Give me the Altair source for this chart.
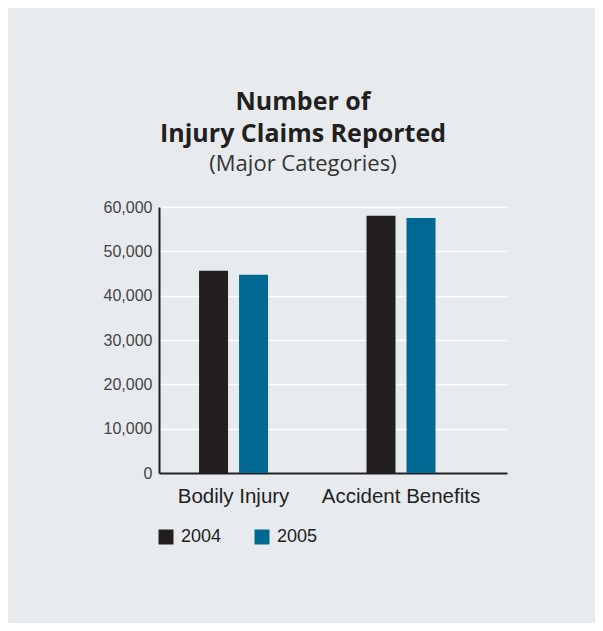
import altair as alt
import pandas as pd

categories = ["Bodily Injury", "Accident Benefits"]
years = ["2004", "2005"]
values_2004 = [45600, 58000]
values_2005 = [44700, 57500]
y_ticks = [0, 10000, 20000, 30000, 40000, 50000, 60000]
colors = ["#231f20", "#006892"]

rows = []
for c, v in zip(categories, values_2004):
    rows.append({"category": c, "year": "2004", "value": v})
for c, v in zip(categories, values_2005):
    rows.append({"category": c, "year": "2005", "value": v})
df = pd.DataFrame(rows)

BG = "#e7ebee"
DARK = "#231f20"

chart = alt.Chart(df).mark_bar().encode(
    x=alt.X(
        "category:N",
        sort=categories,
        scale=alt.Scale(paddingInner=0.588, paddingOuter=0.333, align=0.359),
        axis=alt.Axis(
            title=None, labelAngle=0, ticks=False, grid=False,
            domainColor=DARK, domainWidth=2,
            labelFontSize=20.5, labelColor="#222222", labelFont="Liberation Sans",
            labelPadding=13,
        ),
    ),
    xOffset=alt.XOffset("year:N", sort=years,
                        scale=alt.Scale(paddingInner=0.275, paddingOuter=0)),
    y=alt.Y(
        "value:Q",
        scale=alt.Scale(domain=[0, 60000], nice=False),
        axis=alt.Axis(
            title=None, values=y_ticks, format=",d", ticks=False,
            domainColor=DARK, domainWidth=2,
            gridColor="#ffffff", gridWidth=1.5,
            labelFontSize=16, labelColor="#444444", labelFont="Liberation Sans",
            labelPadding=7,
        ),
    ),
    color=alt.Color(
        "year:N", sort=years,
        scale=alt.Scale(domain=years, range=colors),
        legend=alt.Legend(
            title=None, orient="none", legendX=-2, legendY=321,
            direction="horizontal", symbolType="square", symbolSize=225,
            symbolStrokeWidth=0, labelFontSize=18, labelColor="#222222",
            labelFont="Liberation Sans", labelOffset=6, columnPadding=31,
        ),
    ),
).properties(
    width=348,
    height=266,
    title=alt.TitleParams(
        text=["Number of", "Injury Claims Reported"],
        subtitle="(Major Categories)",
        font="Open Sans", fontSize=25, fontWeight="bold", color="#231f20",
        lineHeight=32,
        subtitleFont="Open Sans", subtitleFontSize=22, subtitleColor="#333333",
        subtitlePadding=7,
        anchor="middle", frame="group", dx=-30, offset=24,
    ),
    background=BG,
    padding={"left": 151, "top": 199, "right": 88, "bottom": 150},
    autosize=alt.AutoSizeParams(type="none"),
).configure_view(stroke=None)

chart.save("out.html", embed_options={"renderer": "svg", "actions": False})
